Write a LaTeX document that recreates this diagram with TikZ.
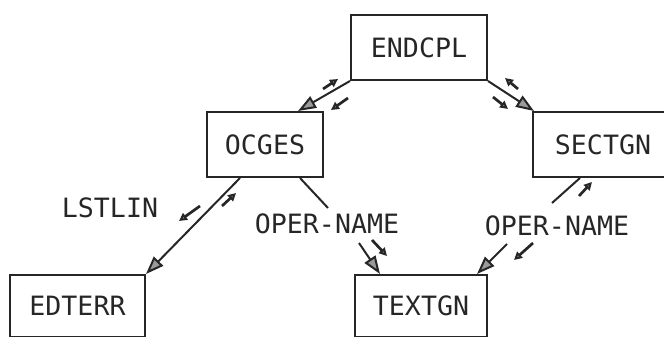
\documentclass[tikz,border=0pt]{standalone}
\usepackage{fontspec}
\setmonofont{DejaVu Sans Mono}
\usetikzlibrary{arrows.meta,calc}
\definecolor{ink}{HTML}{262626}
\definecolor{headgray}{HTML}{9A9A9A}
\begin{document}
\begin{tikzpicture}[x=1pt,y=-1pt,
  box/.style={draw=ink,line width=2pt,text=ink,inner sep=0pt,
    font=\ttfamily\fontsize{26.6}{30}\selectfont},
  lbl/.style={text=ink,inner sep=0pt,font=\ttfamily\fontsize{26.6}{30}\selectfont},
  wire/.style={draw=ink,line width=2pt},
  conn/.style={wire,-{Triangle[length=18pt,width=13pt,fill=headgray]}},
  couple/.style={draw=ink,line width=2.7pt,-{Triangle[length=8pt,width=8pt,fill=headgray]}}]
\useasboundingbox (0,0) rectangle (664,337);
\clip (0,0) rectangle (664,337);
% modules
\node[box,minimum width=136pt,minimum height=65pt] (ENDCPL) at (419,47.5) {ENDCPL};
\node[box,minimum width=116pt,minimum height=65pt] (OCGES) at (265,144.5) {OCGES};
\node[box,minimum width=140pt,minimum height=65pt] (SECTGN) at (603,144.5) {SECTGN};
\node[box,minimum width=135pt,minimum height=62pt] (EDTERR) at (77.5,306) {EDTERR};
\node[box,minimum width=132pt,minimum height=62pt] (TEXTGN) at (421,306) {TEXTGN};
% labels
\node[lbl] (LSTLIN) at (110,208) {LSTLIN};
\node[lbl] (OPL) at (327,224) {OPER-NAME};
\node[lbl] (OPR) at (557,226) {OPER-NAME};
% free ends of broken connectors
\coordinate (ol1) at (328,208);
\coordinate (ol2) at (359,243);
\coordinate (or1) at (552,203);
\coordinate (or2) at (507,244);
% connectors
\draw[conn] (ENDCPL.south west) -- ($(OCGES.north)+(33,0)$);
\draw[conn] (ENDCPL.south east) -- ($(SECTGN.north west)+(2,0)$);
\draw[conn] ($(OCGES.south)+(-25,0)$) -- (EDTERR.north east);
\draw[wire] ($(OCGES.south)+(35,0)$) -- (ol1);
\draw[conn] (ol2) -- ($(TEXTGN.north west)+(26,0)$);
\draw[wire] ($(SECTGN.south west)+(48,0)$) -- (or1);
\draw[conn] (or2) -- ($(TEXTGN.north east)+(-11,0)$);
% couples
\draw[couple] (323,89) -- (338,79);
\draw[couple] (348,98) -- (331,110);
\draw[couple] (518,89) -- (505,78);
\draw[couple] (493,97) -- (508,109);
\draw[couple] (222,206) -- (236,193);
\draw[couple] (200,206) -- (179,221);
\draw[couple] (372,240) -- (387,256);
\draw[couple] (579,196) -- (592,182);
\draw[couple] (533,243) -- (514,260);
\end{tikzpicture}
\end{document}
